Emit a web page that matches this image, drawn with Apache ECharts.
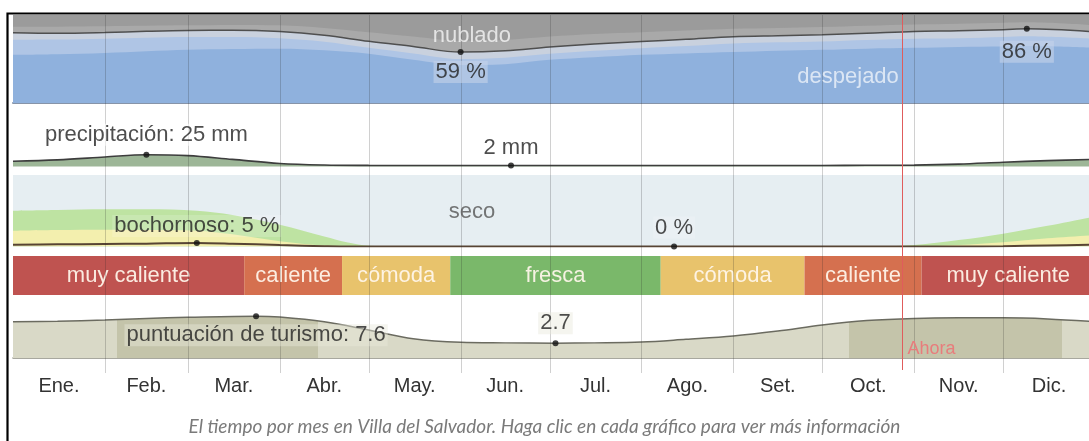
<!DOCTYPE html>
<html>
<head>
<meta charset="utf-8">
<script src="https://cdn.jsdelivr.net/npm/echarts@6/dist/echarts.min.js"></script>
<style>
html,body{margin:0;padding:0;background:#fff;}
#c{width:1089px;height:441px;}
</style>
</head>
<body>
<div id="c"></div>
<script>
// Day-of-year axis: 0 = 1 Jan, 365 = end of 31 Dec
const monthNames  = ['Ene.','Feb.','Mar.','Abr.','May.','Jun.','Jul.','Ago.','Set.','Oct.','Nov.','Dic.'];
const monthStarts = [0,31,59,90,120,151,181,212,243,273,304,334,365];
const nowDay = [300];

// Cloud cover, cumulative % of time (bottom-up)
const cloudDays       = [0,15,31,45,59,74,90,105,120,135,151,166,181,196,212,227,243,258,273,288,304,319,334,342,365];
const clearTop        = [55.8,56.5,58,60,61.6,62.5,62.8,61,57,50,44,45,50,53,55.8,57.5,59,60.5,61.6,63,64,65,65.5,66,64];
const mostlyClearTop  = [73.3,73.5,74.4,75.5,76.4,76.5,75,71,64,57.5,51,52.5,57,60.5,63.5,66,69,70.3,71.3,73,74.5,75,76.5,77.5,74.5];
const partlyCloudyTop = [81.4,80.8,81.7,83.1,84.1,84.3,82.8,78.5,71.5,65.5,59,60.5,65,68.5,71.3,73.8,76.8,78,79.1,80.8,82.9,83.7,85,86,82.5];
const mostlyCloudyTop = [88.4,88.5,89,89.5,90,90.5,90,87,82,77,72,73,77,80,82,84,86,87,88,89.5,91,92,93,93.5,90];
const cloudDots = [[151,59],[342,86]];

// Precipitation (mm, sliding 31-day total)
const precipDays = [0,15,31,45,59,74,90,105,120,135,151,168,181,212,243,273,288,304,319,334,349,365];
const precipMm   = [11,14,20,25,23,15,6.5,3.2,2.3,2.1,2.05,2,2.05,2.1,2.1,2.2,2.6,3,5,9,12.5,15];
const precipDots = [[45,25],[168,2]];

// Humidity comfort, cumulative % of time
const humDays     = [0,15,31,45,62,74,90,105,113,120,135,223,288,304,319,334,349,365];
const comfortTop  = [50,51,52,52,50,44,30.5,14,5.5,1,0,0,0,2,9,18,29,42];
const humidTop    = [22,23,23.5,23,22,17,7.5,1.5,0.5,0,0,0,0,0,2,6,11.5,16];
const muggyPct    = [2.5,3,3.5,4,5,4,2,0.5,0,0,0,0,0,0,0,0.5,1.5,2.5];
const muggyDots   = [[62,5],[223,0]];

// Perceived temperature bands
const tempStart  = [0,78,111,147.5,218.5,267,306.5];
const tempEnd    = [78,111,147.5,218.5,267,306.5,365];
const tempLabels = ['muy caliente','caliente','cómoda','fresca','cómoda','caliente','muy caliente'];

// Tourism score (0-10)
const tourismDays  = [0,15,31,45,59,82,90,105,120,135,151,166,183,196,212,227,243,258,273,288,304,319,334,349,365];
const tourismScore = [6.6,6.7,6.9,7.2,7.4,7.6,7.45,6.6,5.1,3.5,2.85,2.75,2.7,2.75,2.9,3.4,4.0,4.9,6.0,6.8,7.2,7.3,7.3,7.1,6.6];
const tourismDots  = [[82,7.6],[183,2.7]];
const bestPeriods  = [[35,103],[282,354]];

const FONT = '"Liberation Sans", Arial, sans-serif';
const LABEL_SIZE = 22;
const tempColors = {'muy caliente':'#bf5350','caliente':'#d5704f','cómoda':'#e8c36c','fresca':'#7ab86a'};
const tourismLight = '#d9d9c7', tourismDark = '#c4c4aa';

// panel layout: cloud, precipitation, humidity, temperature, tourism, overlay
const panels = [
  {top:15,  height:88,   max:102},
  {top:106, height:60.5, max:128},
  {top:175, height:71.5, max:100},
  {top:256, height:39,   max:1},
  {top:303, height:55,   max:10},
  {top:15,  height:358,  max:1}
];

const grids = panels.map((p,i) => ({
  left:13, width:1082, top:p.top, height:p.height,
  show: i === 0 || i === 2,
  backgroundColor: i === 0 ? '#9b9b9b' : '#e6eef2',
  borderWidth:0, outerBoundsMode:'none'
}));
const xAxes = panels.map((p,i) => ({
  gridIndex:i, type:'value', min:0, max:365,
  show: i === 0 || i === 4,
  axisLabel:{show:false}, axisTick:{show:false}, splitLine:{show:false},
  axisLine:{show:true, onZero:false, lineStyle: i === 0 ? {color:'#8794a8', width:2} : {color:'#8c8c80', width:1.5}}
}));
const yAxes = panels.map((p,i) => ({gridIndex:i, type:'value', min:0, max:p.max, show:false}));

const pair = (days, vals) => days.map((d,i) => [d, vals[i]]);

function areaSeries(gi, days, vals, fill, line, z) {
  return {
    type:'line', xAxisIndex:gi, yAxisIndex:gi, data:pair(days, vals),
    smooth:0.35, showSymbol:false, silent:true, z:z || 2,
    lineStyle: line ? {color:line[0], width:line[1]} : {width:0},
    areaStyle: fill ? {color:fill, opacity:1} : undefined
  };
}

function dotSeries(gi, dots, fmt, pos, dist, bg) {
  return {
    type:'scatter', xAxisIndex:gi, yAxisIndex:gi, z:10, silent:true,
    symbolSize:6, itemStyle:{color:'#111'},
    data: dots.map((d,i) => ({
      value:d,
      label:{
        show:true, position:pos[i], distance:dist[i],
        formatter: () => fmt[i](d[1]),
        color:'#222', fontSize:LABEL_SIZE, fontFamily:FONT,
        backgroundColor:bg, padding:[0,2]
      }
    }))
  };
}

function textSeries(gi, items) {
  return {
    type:'scatter', xAxisIndex:gi, yAxisIndex:gi, z:9, silent:true, symbolSize:0,
    data: items.map(t => ({
      value:t.at,
      label:{show:true, position:'inside', formatter:t.text, color:t.color, fontSize:LABEL_SIZE, fontFamily:FONT}
    }))
  };
}

const series = [];
// cloud cover bands
series.push(areaSeries(0, cloudDays, mostlyCloudyTop, '#a9a9a9'));
series.push(areaSeries(0, cloudDays, partlyCloudyTop, '#c9d1de'));
series.push(areaSeries(0, cloudDays, mostlyClearTop, '#afc5e5'));
series.push(areaSeries(0, cloudDays, clearTop, '#8fb1dd'));
series.push(areaSeries(0, cloudDays, partlyCloudyTop, null, ['#4f4f4f',1.5], 4));
// precipitation
series.push(areaSeries(1, precipDays, precipMm, '#9db697', ['#3d3d3d',1.6], 3));
// humidity
series.push(areaSeries(2, humDays, comfortTop, '#bee3a2'));
series.push(areaSeries(2, humDays, humidTop, '#f3efae'));
series.push(areaSeries(2, humDays, muggyPct, null, ['#574434',2], 4));
// temperature bands
series.push({
  type:'custom', xAxisIndex:3, yAxisIndex:3, silent:true, z:3,
  data: tempStart.map((s,i) => [s, tempEnd[i]]),
  renderItem: (params, api) => {
    const a = api.coord([api.value(0), 1]);
    const b = api.coord([api.value(1), 0]);
    const name = tempLabels[params.dataIndex];
    return {type:'group', children:[
      {type:'rect', shape:{x:a[0], y:a[1], width:b[0]-a[0], height:b[1]-a[1]}, style:{fill:tempColors[name]}},
      {type:'text', style:{text:name, x:(a[0]+b[0])/2, y:(a[1]+b[1])/2, align:'center', verticalAlign:'middle',
        fill:'rgba(255,246,236,0.93)', fontSize:LABEL_SIZE, fontFamily:FONT}}
    ]};
  }
});
// tourism score
const tourismIndex = series.length;
series.push({
  type:'line', xAxisIndex:4, yAxisIndex:4, data:pair(tourismDays, tourismScore),
  smooth:0.35, showSymbol:false, silent:true, z:2,
  lineStyle:{color:'#6b6b60', width:1.5},
  areaStyle:{opacity:1}
});
// month separators
series.push({
  type:'custom', xAxisIndex:5, yAxisIndex:5, silent:true, z:6,
  data: monthStarts.slice(1,12).map(d => [d,0]),
  renderItem: (params, api) => {
    const x = Math.round(api.coord([api.value(0),0])[0]) + 0.5;
    const cs = params.coordSys;
    return {type:'line', shape:{x1:x, y1:cs.y, x2:x, y2:cs.y+cs.height}, style:{stroke:'rgba(40,40,40,0.22)', lineWidth:1}};
  }
});
// month labels
series.push({
  type:'custom', xAxisIndex:5, yAxisIndex:5, silent:true, z:6,
  data: monthNames.map((m,i) => [(monthStarts[i]+monthStarts[i+1])/2, 0]),
  renderItem: (params, api) => {
    const x = api.coord([api.value(0),0])[0];
    const cs = params.coordSys;
    return {type:'text', style:{text:monthNames[params.dataIndex], x:x, y:cs.y+cs.height+13,
      align:'center', verticalAlign:'middle', fill:'#333', fontSize:20, fontFamily:FONT}};
  }
});
// current date marker
series.push({
  type:'custom', xAxisIndex:5, yAxisIndex:5, silent:true, z:8,
  data: nowDay.map(d => [d,0]),
  renderItem: (params, api) => {
    const x = Math.round(api.coord([api.value(0),0])[0]) + 0.5;
    const cs = params.coordSys;
    return {type:'group', children:[
      {type:'line', shape:{x1:x, y1:cs.y-1, x2:x, y2:cs.y+cs.height-3}, style:{stroke:'#e05c5c', lineWidth:1}},
      {type:'text', style:{text:'Ahora', x:x+5, y:cs.y+cs.height-24, align:'left', verticalAlign:'middle',
        fill:'#e87c7c', fontSize:18, fontFamily:FONT}}
    ]};
  }
});
// value annotations
series.push(dotSeries(0, cloudDots, [v => v+' %', v => v+' %'], ['bottom','bottom'], [6,9], 'rgba(196,210,234,0.75)'));
series.push(dotSeries(1, precipDots, [v => 'precipitación: '+v+' mm', v => v+' mm'], ['top','top'], [6,4], 'rgba(255,255,255,0.7)'));
series.push(dotSeries(2, muggyDots, [v => 'bochornoso: '+v+' %', v => v+' %'], ['top','top'], [3,5], 'rgba(255,255,255,0.2)'));
series.push(dotSeries(4, tourismDots, [v => 'puntuación de turismo: '+v, v => String(v)], ['bottom','top'], [5,6], 'rgba(232,232,218,0.55)'));
// band names
series.push(textSeries(0, [
  {at:[154.8,77.9], text:'nublado', color:'rgba(255,255,255,0.9)'},
  {at:[281.7,30.2], text:'despejado', color:'rgba(255,255,255,0.85)'}
]));
series.push(textSeries(2, [{at:[154.8,48], text:'seco', color:'#555'}]));

// best-time shading under the tourism curve
const pieces = [];
let prev = null;
bestPeriods.forEach(([s,e]) => {
  pieces.push(prev === null ? {lt:s, color:tourismLight} : {gt:prev, lt:s, color:tourismLight});
  pieces.push({gte:s, lte:e, color:tourismDark});
  prev = e;
});
pieces.push({gt:prev, color:tourismLight});

const chart = echarts.init(document.getElementById('c'));
chart.setOption({
  animation:false,
  backgroundColor:'#fff',
  title:{
    text:'El tiempo por mes en Villa del Salvador. Haga clic en cada gráfico para ver más información',
    left:'center', top:412,
    textStyle:{fontFamily:'Lato, "Open Sans", sans-serif', fontStyle:'italic', fontWeight:'normal', fontSize:19, color:'#7a7a7a'}
  },
  grid:grids, xAxis:xAxes, yAxis:yAxes,
  visualMap:[{type:'piecewise', show:false, seriesIndex:tourismIndex, dimension:0, pieces:pieces}],
  graphic:[{type:'rect', z:100, silent:true, shape:{x:7.5, y:13.5, width:1100, height:440}, style:{fill:'none', stroke:'#000', lineWidth:2.2}}],
  series:series
});
</script>
</body>
</html>
